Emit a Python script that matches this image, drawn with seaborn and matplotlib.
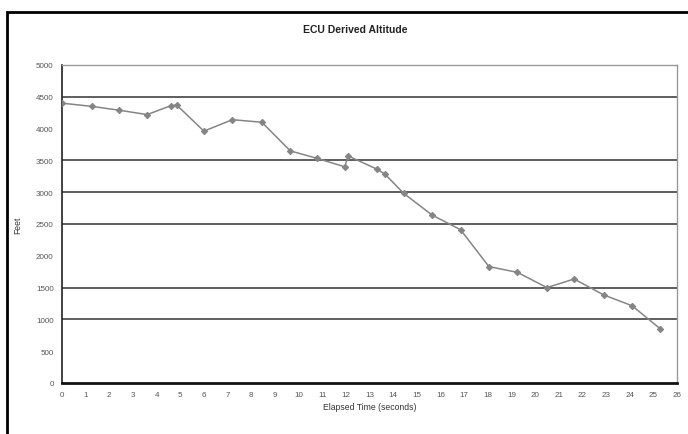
import numpy as np
import pandas as pd
import seaborn as sns
import matplotlib.pyplot as plt
from matplotlib.patches import Rectangle

# values
time_s = [0.0, 1.25, 2.4, 3.6, 4.6, 4.85, 6.0, 7.2, 8.45, 9.65, 10.8, 11.95, 12.1,
          13.3, 13.65, 14.45, 15.65, 16.85, 18.05, 19.25, 20.5, 21.65, 22.9, 24.1, 25.3]
altitude_ft = [4400, 4350, 4290, 4220, 4360, 4370, 3960, 4140, 4100, 3650, 3530, 3400, 3570,
               3365, 3285, 2980, 2640, 2410, 1830, 1740, 1500, 1635, 1385, 1215, 850]
grid_levels = [4500, 3500, 3000, 2500, 1500, 1000]
y_ticks = [0, 500, 1000, 1500, 2000, 2500, 3000, 3500, 4000, 4500, 5000]
x_ticks = list(range(0, 27))

df = pd.DataFrame({"time": time_s, "alt": altitude_ft})

sns.set_style("white")
plt.rcParams["font.family"] = ["Liberation Sans", "DejaVu Sans"]

fig = plt.figure(figsize=(6.88, 4.35), dpi=100)
ax = fig.add_axes([62 / 688, 1 - 384 / 435, 615 / 688, 318 / 435])

for g in grid_levels:
    ax.axhline(g, color="#333333", lw=1.1, zorder=1)

sns.lineplot(data=df, x="time", y="alt", ax=ax, color="#858585", lw=1.1,
             marker="D", markersize=3.2, markeredgecolor="#858585", zorder=3)

ax.set_xlim(0, 26)
ax.set_ylim(0, 5000)
ax.set_xticks(x_ticks)
ax.set_yticks(y_ticks)
ax.set_yticks(np.arange(0, 5001, 100), minor=True)
ax.tick_params(axis="both", labelsize=5.8, length=3, width=0.8,
               direction="out", pad=3)
ax.tick_params(axis="y", which="minor", length=1.5, width=0.6, colors="#333333")
ax.tick_params(axis="x", which="major", colors="#222222", labelcolor="#555555")
ax.tick_params(axis="y", which="major", colors="#222222", labelcolor="#555555")

for side in ["top", "right"]:
    ax.spines[side].set_color("#999999")
    ax.spines[side].set_linewidth(1.0)
ax.spines["left"].set_color("#222222")
ax.spines["left"].set_linewidth(1.2)
ax.spines["bottom"].set_color("#111111")
ax.spines["bottom"].set_linewidth(2.0)

ax.set_xlabel("Elapsed Time (seconds)", fontsize=6.2, color="#333333", labelpad=3)
ax.set_ylabel("Feet", fontsize=6.2, color="#333333", labelpad=10)
fig.text(355 / 688, 1 - 30 / 435, "ECU Derived Altitude", ha="center", va="center",
         fontsize=7.5, fontweight="bold", color="#222222")

# outer chart frame
fig.patches.append(Rectangle((7 / 688, -0.01), 0.995, 1 - 13 / 435 + 0.01,
                             transform=fig.transFigure, fill=False,
                             edgecolor="black", lw=2.0))

fig.savefig("out.png", dpi=100)
